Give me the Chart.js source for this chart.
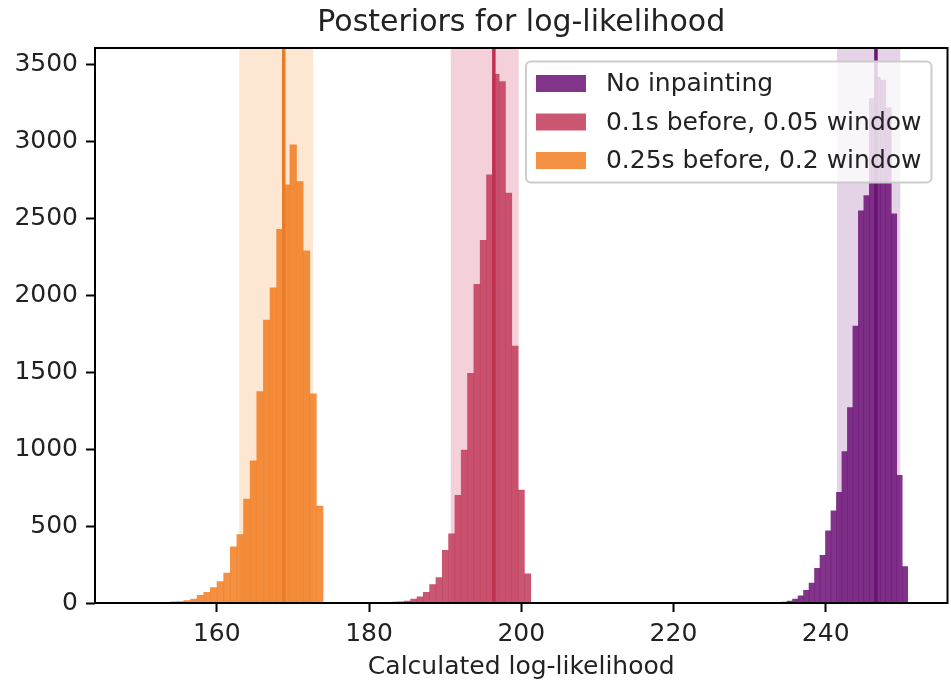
<!DOCTYPE html>
<html>
<head>
<meta charset="utf-8">
<script src="https://cdn.jsdelivr.net/npm/chart.js@4.4.1/dist/chart.umd.min.js"></script>
<style>
  html, body { margin: 0; padding: 0; background: #fff; }
  canvas { display: block; }
</style>
</head>
<body>
<canvas id="chart" width="951" height="686"></canvas>
<script>
// bin centres and counts
const purpleBins = [234.57, 235.29, 236.01, 236.73, 237.45, 238.17, 238.89, 239.61, 240.33, 241.05, 241.77, 242.49,
    243.21, 243.93, 244.65, 245.37, 246.09, 246.81, 247.53, 248.25, 248.97, 249.69, 250.41];
const purpleCounts = [6, 12, 25, 47, 82, 130, 225, 310, 470, 600, 720, 985,
    1270, 1800, 2550, 2650, 3280, 3420, 3400, 3220, 2530, 830, 237];

const redBins = [182.57, 183.40, 184.23, 185.06, 185.89, 186.72, 187.55, 188.38, 189.21, 190.04, 190.87, 191.70,
    192.53, 193.36, 194.19, 195.02, 195.85, 196.68, 197.51, 198.34, 199.17, 200.00, 200.83];
const redCounts = [4, 6, 8, 12, 25, 40, 70, 120, 165, 343, 450, 700,
    995, 1493, 2073, 2358, 2784, 3438, 3390, 2666, 1670, 734, 189];

const orangeBins = [153.51, 154.38, 155.25, 156.12, 156.99, 157.86, 158.73, 159.60, 160.47, 161.34, 162.21, 163.08,
    163.95, 164.82, 165.69, 166.56, 167.43, 168.30, 169.17, 170.04, 170.91, 171.78, 172.65, 173.52];
const orangeCounts = [5, 8, 10, 15, 25, 50, 70, 100, 140, 195, 365, 445,
    675, 925, 1375, 1840, 2050, 2430, 2720, 2980, 2740, 2290, 1360, 630];

// bin widths of the three histograms (purple, red, orange)
const binWidths = [0.72, 0.83, 0.87];

const seriesLabels = ["No inpainting", "0.1s before, 0.05 window", "0.25s before, 0.2 window"];
const medians = [246.6, 196.4, 168.8];
const spanLow = [241.5, 190.74, 162.95];
const spanHigh = [249.8, 199.67, 172.66];

const xTicks = [160, 180, 200, 220, 240];
const yTicks = [0, 500, 1000, 1500, 2000, 2500, 3000, 3500];

const barColors = ["rgba(112, 24, 121, 0.88)", "rgba(195, 64, 95, 0.88)", "rgba(241, 129, 39, 0.88)"];
const lineColors = ["#6a1574", "#c1304f", "#e97c27"];
const spanColors = ["rgba(120, 30, 130, 0.2)", "rgba(205, 60, 100, 0.24)", "rgba(248, 140, 50, 0.22)"];

const FONT = "'DejaVu Sans', 'Liberation Sans', sans-serif";
const TEXT = "#222";

const toPoints = (bins, counts) => bins.map((x, i) => ({ x, y: counts[i] }));

// bar thickness in pixels, taken from the x scale for a given bin width
const thicknessFor = (w) => (c) => {
    const s = c.chart.scales.x;
    return Math.abs(s.getPixelForValue(200 + w) - s.getPixelForValue(200));
};

const decorations = {
    id: "decorations",
    beforeDatasetsDraw(chart) {
        const { ctx, chartArea } = chart;
        const x = chart.scales.x;
        ctx.save();
        spanLow.forEach((lo, i) => {
            const a = x.getPixelForValue(lo);
            const b = x.getPixelForValue(spanHigh[i]);
            ctx.fillStyle = spanColors[i];
            ctx.fillRect(a, chartArea.top, b - a, chartArea.bottom - chartArea.top);
        });
        ctx.restore();
    },
    afterDatasetsDraw(chart) {
        const { ctx, chartArea } = chart;
        const x = chart.scales.x;
        ctx.save();

        // median lines
        medians.forEach((m, i) => {
            const px = x.getPixelForValue(m);
            ctx.strokeStyle = lineColors[i];
            ctx.lineWidth = 3.5;
            ctx.beginPath();
            ctx.moveTo(px, chartArea.top);
            ctx.lineTo(px, chartArea.bottom);
            ctx.stroke();
        });

        // spines
        ctx.strokeStyle = "#000";
        ctx.lineWidth = 2;
        ctx.strokeRect(chartArea.left, chartArea.top, chartArea.right - chartArea.left, chartArea.bottom - chartArea.top);

        // title
        ctx.fillStyle = TEXT;
        ctx.font = "30px " + FONT;
        ctx.textAlign = "center";
        ctx.textBaseline = "alphabetic";
        ctx.fillText("Posteriors for log-likelihood", (chartArea.left + chartArea.right) / 2, 31);

        // legend
        const fs = 25;
        const boxRight = chartArea.right - 16;
        const boxTop = chartArea.top + 13.5;
        ctx.font = fs + "px " + FONT;
        const textW = Math.max(...seriesLabels.map((t) => ctx.measureText(t).width));
        const boxW = 10 + 50 + 20 + textW + 10;
        const rowH = 38.5;
        const boxH = 121;
        const boxLeft = boxRight - boxW;
        ctx.fillStyle = "rgba(255,255,255,0.8)";
        ctx.strokeStyle = "#cccccc";
        ctx.lineWidth = 2;
        ctx.beginPath();
        ctx.roundRect(boxLeft, boxTop, boxW, boxH, 5);
        ctx.fill();
        ctx.stroke();
        seriesLabels.forEach((label, i) => {
            const cy = boxTop + 22 + i * rowH;
            ctx.fillStyle = barColors[i];
            ctx.fillRect(boxLeft + 10, cy - 8.5, 50, 17);
            ctx.fillStyle = TEXT;
            ctx.textAlign = "left";
            ctx.textBaseline = "middle";
            ctx.fillText(label, boxLeft + 80, cy + 1);
        });
        ctx.restore();
    }
};

const hiddenX = { type: "linear", display: false, min: 144, max: 256, offset: false };
const barStyle = { barPercentage: 1, categoryPercentage: 1, borderWidth: 0, grouped: false };

new Chart(document.getElementById("chart"), {
    type: "bar",
    data: {
        datasets: [
            { label: seriesLabels[0], data: toPoints(purpleBins, purpleCounts), xAxisID: "xPurple",
                backgroundColor: barColors[0], barThickness: thicknessFor(binWidths[0]), ...barStyle },
            { label: seriesLabels[1], data: toPoints(redBins, redCounts), xAxisID: "xRed",
                backgroundColor: barColors[1], barThickness: thicknessFor(binWidths[1]), ...barStyle },
            { label: seriesLabels[2], data: toPoints(orangeBins, orangeCounts), xAxisID: "x",
                backgroundColor: barColors[2], barThickness: thicknessFor(binWidths[2]), ...barStyle }
        ]
    },
    options: {
        responsive: false,
        animation: false,
        devicePixelRatio: 1,
        layout: { padding: { top: 48, right: 3.5, left: 0, bottom: 0 } },
        plugins: {
            legend: { display: false },
            title: { display: false },
            tooltip: { enabled: false }
        },
        scales: {
            x: {
                type: "linear",
                position: "bottom",
                min: 144,
                max: 256,
                offset: false,
                afterBuildTicks: (scale) => { scale.ticks = xTicks.map((v) => ({ value: v })); },
                afterFit: (scale) => { scale.height = 83; },
                ticks: { color: TEXT, font: { family: FONT, size: 25 }, padding: 7, maxRotation: 0, callback: (v) => String(v) },
                grid: { display: true, drawOnChartArea: false, drawTicks: true, tickLength: 9, tickWidth: 2, tickColor: "#000", offset: false },
                border: { display: false },
                title: {
                    display: true,
                    text: "Calculated log-likelihood",
                    color: TEXT,
                    font: { family: FONT, size: 25 },
                    padding: { top: 0, bottom: 4 }
                }
            },
            xRed: hiddenX,
            xPurple: hiddenX,
            y: {
                min: 0,
                max: 3609,
                afterBuildTicks: (scale) => { scale.ticks = yTicks.map((v) => ({ value: v })); },
                afterFit: (scale) => { scale.width = 95; },
                ticks: { color: TEXT, font: { family: FONT, size: 25 }, padding: 8, callback: (v) => String(v) },
                grid: { display: true, drawOnChartArea: false, drawTicks: true, tickLength: 9, tickWidth: 2, tickColor: "#000" },
                border: { display: false }
            }
        }
    },
    plugins: [decorations]
});
</script>
</body>
</html>
